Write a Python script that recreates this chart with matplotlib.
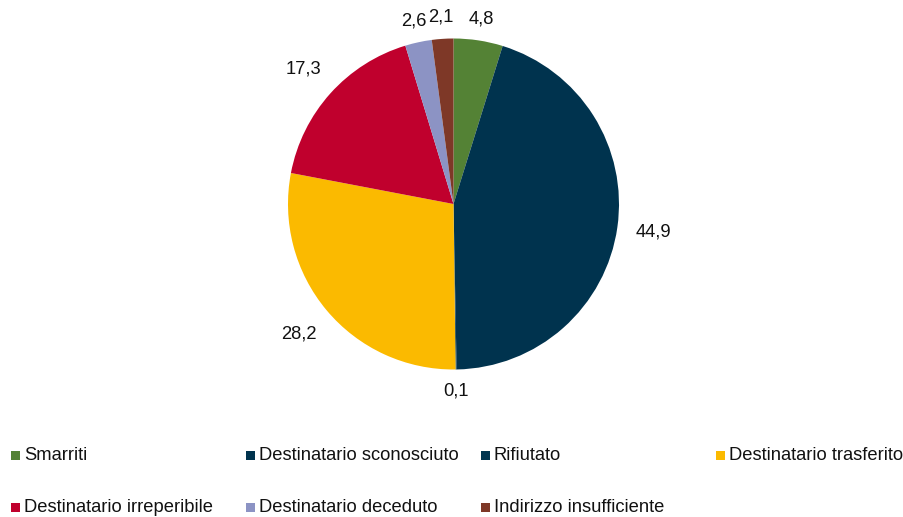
import numpy as np
import matplotlib
matplotlib.use("Agg")
import matplotlib.pyplot as plt
from matplotlib.patches import Rectangle

plt.rcParams["font.family"] = ["Liberation Sans", "DejaVu Sans"]

categories = [
    "Smarriti",
    "Destinatario sconosciuto",
    "Rifiutato",
    "Destinatario trasferito",
    "Destinatario irreperibile",
    "Destinatario deceduto",
    "Indirizzo insufficiente",
]
values = [4.8, 44.9, 0.1, 28.2, 17.3, 2.6, 2.1]
value_labels = ["4,8", "44,9", "0,1", "28,2", "17,3", "2,6", "2,1"]
colors = ["#548235", "#00334E", "#003550", "#FBBA00", "#C0002D", "#8C93C4", "#7E3827"]

W, H = 904, 517
FS = 13.2
fig = plt.figure(figsize=(W / 100, H / 100), dpi=100)
ax = fig.add_axes([0, 0, 1, 1])

cx, cy, r = 453.5, H - 204, 165.5
wedges, _ = ax.pie(values, colors=colors, startangle=90, counterclock=False,
                   center=(cx, cy), radius=r,
                   wedgeprops=dict(linewidth=0))

# value labels just outside each slice
for w, lab, v in zip(wedges, value_labels, values):
    mid = np.deg2rad((w.theta1 + w.theta2) / 2)
    d = r * (1.22 if v >= 10 else 1.13)
    ax.text(cx + d * np.cos(mid), cy + d * np.sin(mid), lab,
            ha="center", va="center", fontsize=FS, color="#111111")

ax.set_xlim(0, W)
ax.set_ylim(0, H)
ax.set_aspect("equal")
ax.axis("off")

# legend laid out in four columns
for i, (name, col) in enumerate(zip(categories, colors)):
    x = 11 + (i % 4) * 235
    y = H - (455 + (i // 4) * 52)
    ax.add_patch(Rectangle((x, y - 4.5), 9, 9, facecolor=col, edgecolor="none"))
    ax.text(x + 13, y, name, ha="left", va="center", fontsize=FS, color="#111111")

fig.savefig("out.png", dpi=100, facecolor="white")
